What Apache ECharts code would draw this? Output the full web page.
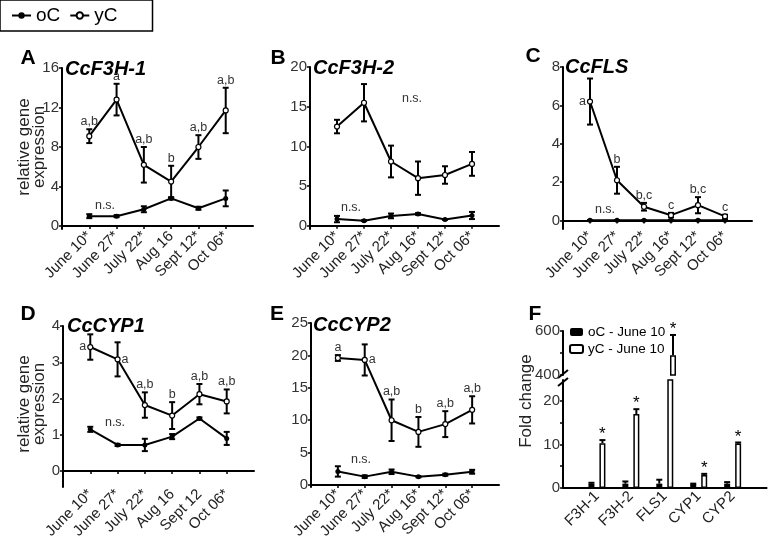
<!DOCTYPE html>
<html><head><meta charset="utf-8">
<script src="https://cdn.jsdelivr.net/npm/echarts@6/dist/echarts.min.js"></script>
<style>html,body{margin:0;padding:0;background:#fff}#c{width:774px;height:545px}</style>
</head><body><div id="c"></div>
<script>
// ---------------- DATA ----------------
const catsA = ['June 10*','June 27*','July 22*','Aug 16','Sept 12*','Oct 06*'];
const catsB = ['June 10*','June 27*','July 22*','Aug 16*','Sept 12*','Oct 06*'];
const catsC = ['June 10*','June 27*','July 22*','Aug 16*','Sept 12*','Oct 06*'];
const catsD = ['June 10*','June 27*','July 22*','Aug 16','Sept 12','Oct 06*'];
const catsE = ['June 10*','June 27*','July 22*','Aug 16*','Sept 12*','Oct 06*'];

const A_oC = [1.0, 1.0, 1.7, 2.8, 1.8, 2.8];
const A_oC_err = [0.2, 0.1, 0.3, 0.1, 0.15, 0.8];
const A_yC = [9.1, 12.8, 6.2, 4.5, 8.0, 11.7];
const A_yC_err = [0.7, 1.6, 1.8, 1.6, 1.2, 2.3];
const A_sig = ['a,b','a','a,b','b','a,b','a,b'];
const A_ticks = [0, 4, 8, 12, 16];

const B_oC = [0.85, 0.65, 1.25, 1.5, 0.8, 1.3];
const B_oC_err = [0.4, 0.05, 0.3, 0.1, 0.05, 0.45];
const B_yC = [12.5, 15.5, 8.1, 6.0, 6.4, 7.8];
const B_yC_err = [0.85, 2.35, 2.0, 2.1, 1.1, 1.5];
const B_sig = ['','','','','',''];
const B_ticks = [0, 5, 10, 15, 20];

const C_oC = [0.02, 0.02, 0.02, 0.02, 0.02, 0.02];
const C_oC_err = [0, 0, 0, 0, 0, 0];
const C_yC = [6.2, 2.1, 0.72, 0.28, 0.8, 0.22];
const C_yC_err = [1.2, 0.7, 0.2, 0.12, 0.42, 0.08];
const C_sig = ['a','b','b,c','c','b,c','c'];
const C_ticks = [0, 2, 4, 6, 8];

const D_oC = [1.15, 0.72, 0.72, 0.95, 1.45, 0.9];
const D_oC_err = [0.07, 0.03, 0.17, 0.07, 0.03, 0.18];
const D_yC = [3.42, 3.08, 1.82, 1.53, 2.12, 1.92];
const D_yC_err = [0.35, 0.47, 0.35, 0.37, 0.28, 0.33];
const D_sig = ['a','a','a,b','b','a,b','a,b'];
const D_ticks = [0, 1, 2, 3, 4];

const E_oC = [2.1, 1.3, 2.05, 1.3, 1.6, 2.05];
const E_oC_err = [0.8, 0.2, 0.35, 0.1, 0.15, 0.3];
const E_yC = [19.6, 19.3, 10.0, 8.2, 9.4, 11.6];
const E_yC_err = [0.45, 2.4, 3.2, 2.3, 2.0, 2.1];
const E_sig = ['a','a','a,b','b','a,b','a,b'];
const E_ticks = [0, 5, 10, 15, 20, 25];

const F_cats = ['F3H-1','F3H-2','FLS1','CYP1','CYP2'];
const F_oC = [1.0, 1.0, 1.0, 0.9, 1.0];
const F_oC_err = [0.2, 0.5, 0.9, 0.1, 0.35];
const F_yC = [10.3, 17.0, 490, 3.0, 10.2];
const F_yC_err = [0.7, 1.1, 92, 0.25, 0.25];
const F_sig = ['*','*','*','*','*'];
const F_lowTicks = [0, 5, 10, 15, 20];
const F_lowLabels = [0, 10, 20];
const F_highTicks = [400, 500, 600];
const F_highLabels = [400, 600];

// ---------------- STYLE / LAYOUT ----------------
const FONT = '"Liberation Sans", Arial, sans-serif';
const grid = [], xAxis = [], yAxis = [], series = [];

function pad(c) { return [' ', ...c, '  ']; }

function errBoth(params, api) {
  const x = api.value(0), y = api.value(1), e = api.value(2);
  const t = api.coord([x, y + e]), b = api.coord([x, y - e]);
  const st = { stroke: '#000', lineWidth: 2 };
  const c = 3;
  return { type: 'group', children: [
    { type: 'line', shape: { x1: t[0], y1: t[1], x2: b[0], y2: b[1] }, style: st },
    { type: 'line', shape: { x1: t[0] - c, y1: t[1], x2: t[0] + c, y2: t[1] }, style: st },
    { type: 'line', shape: { x1: b[0] - c, y1: b[1], x2: b[0] + c, y2: b[1] }, style: st }
  ]};
}

function makeSig(labels, place) {
  return function (params, api) {
    const i = params.dataIndex;
    const txt = labels[i];
    if (!txt) return null;
    const x = api.value(0), y = api.value(1), e = api.value(2);
    const p = api.coord([x, y]), t = api.coord([x, y + e]);
    const pl = place[i] || 'top';
    let tx, ty, align, va;
    if (pl === 'top') { tx = p[0]; ty = t[1] - 1; align = 'center'; va = 'bottom'; }
    else if (pl === 'left') { tx = p[0] - 4; ty = p[1]; align = 'right'; va = 'middle'; }
    else { tx = p[0] + 4; ty = p[1]; align = 'left'; va = 'middle'; }
    return { type: 'text', x: tx, y: ty,
      style: { text: txt, align: align, verticalAlign: va, fontSize: 12.5, fontFamily: FONT, fill: '#333' } };
  };
}

function addLinePanel(p) {
  const gi = grid.length;
  const n = p.cats.length;
  grid.push({ left: p.left, top: p.top, width: p.width, height: p.height });
  xAxis.push({ type: 'category', gridIndex: gi, data: pad(p.cats), boundaryGap: false,
    axisLine: { lineStyle: { color: '#000', width: 2 } },
    axisTick: { show: true, length: 3, interval: (i) => i > 0 && i <= n, lineStyle: { color: '#000', width: 1.5 } },
    axisLabel: { rotate: 45, fontSize: 15, color: '#222', margin: 5, interval: 0, fontFamily: FONT },
    splitLine: { show: false } });
  yAxis.push({ type: 'value', gridIndex: gi, min: p.ymin, max: p.ymax,
    axisLine: { show: true, lineStyle: { color: '#000', width: 2 } },
    axisTick: { show: true, length: 3, customValues: p.ticks, lineStyle: { color: '#000', width: 1.5 } },
    axisLabel: { customValues: p.ticks, fontSize: 15, color: '#333', margin: 3, fontFamily: FONT },
    splitLine: { show: false } });
  const pts = (a) => a.map((v, i) => [i + 1, v]);
  const errs = (a, e) => a.map((v, i) => [i + 1, v, e[i]]);
  series.push({ type: 'custom', xAxisIndex: gi, yAxisIndex: gi, renderItem: errBoth, data: errs(p.yC, p.yCerr), z: 2, silent: true });
  series.push({ type: 'custom', xAxisIndex: gi, yAxisIndex: gi, renderItem: errBoth, data: errs(p.oC, p.oCerr), z: 2, silent: true });
  series.push({ type: 'line', name: 'oC', xAxisIndex: gi, yAxisIndex: gi, data: pts(p.oC),
    symbol: 'circle', symbolSize: 5, itemStyle: { color: '#000' }, lineStyle: { color: '#000', width: 2 }, z: 3 });
  series.push({ type: 'line', name: 'yC', xAxisIndex: gi, yAxisIndex: gi, data: pts(p.yC),
    symbol: 'circle', symbolSize: 5, itemStyle: { color: '#fff', borderColor: '#000', borderWidth: 1.2 },
    lineStyle: { color: '#000', width: 2 }, z: 4 });
  series.push({ type: 'custom', xAxisIndex: gi, yAxisIndex: gi, renderItem: makeSig(p.sig, p.place || {}),
    data: errs(p.yC, p.yCerr), z: 5, silent: true });
}

addLinePanel({ left: 62, top: 68, width: 191, height: 161, ymin: -0.3, ymax: 16, ticks: A_ticks,
  cats: catsA, oC: A_oC, oCerr: A_oC_err, yC: A_yC, yCerr: A_yC_err, sig: A_sig });
addLinePanel({ left: 310, top: 67, width: 189, height: 162, ymin: -0.4, ymax: 20, ticks: B_ticks,
  cats: catsB, oC: B_oC, oCerr: B_oC_err, yC: B_yC, yCerr: B_yC_err, sig: B_sig });
addLinePanel({ left: 563, top: 67, width: 189, height: 162, ymin: -0.44, ymax: 8, ticks: C_ticks,
  cats: catsC, oC: C_oC, oCerr: C_oC_err, yC: C_yC, yCerr: C_yC_err, sig: C_sig, place: { 0: 'left' } });
addLinePanel({ left: 63, top: 326, width: 191, height: 161, ymin: -0.44, ymax: 4, ticks: D_ticks,
  cats: catsD, oC: D_oC, oCerr: D_oC_err, yC: D_yC, yCerr: D_yC_err, sig: D_sig, place: { 0: 'left', 1: 'right' } });
addLinePanel({ left: 311, top: 323, width: 188, height: 164, ymin: -0.3, ymax: 25, ticks: E_ticks,
  cats: catsE, oC: E_oC, oCerr: E_oC_err, yC: E_yC, yCerr: E_yC_err, sig: E_sig, place: { 1: 'right' } });

// ---- Panel F (broken axis: two grids) ----
const F_LOW_MAX = 24.8;
const BAR_W = 6, BAR_SHIFT = 5.5;
function errUp(shift) {
  return function (params, api) {
    const x = api.value(0), y = api.value(1), e = api.value(2);
    const b = api.coord([x, y]), t = api.coord([x, y + e]);
    const cx = b[0] + shift;
    const st = { stroke: '#000', lineWidth: 2 };
    return { type: 'group', children: [
      { type: 'line', shape: { x1: cx, y1: b[1], x2: cx, y2: t[1] }, style: st },
      { type: 'line', shape: { x1: cx - 3, y1: t[1], x2: cx + 3, y2: t[1] }, style: st }
    ]};
  };
}
function starItem(params, api) {
  const x = api.value(0), y = api.value(1), e = api.value(2);
  const t = api.coord([x, y + e]);
  return { type: 'text', x: t[0] + BAR_SHIFT, y: t[1] + 3,
    style: { text: '*', align: 'center', verticalAlign: 'bottom', fontSize: 17, fontFamily: FONT, fill: '#000' } };
}
const fLow = grid.length;
grid.push({ left: 563, top: 380, width: 209, height: 108 });
xAxis.push({ type: 'category', gridIndex: fLow, data: pad(F_cats), boundaryGap: false,
  axisLine: { lineStyle: { color: '#000', width: 2 } }, axisTick: { show: false },
  axisLabel: { rotate: 45, fontSize: 15, color: '#222', margin: 6, interval: 0, fontFamily: FONT } });
yAxis.push({ type: 'value', gridIndex: fLow, min: 0, max: F_LOW_MAX,
  axisLine: { show: true, lineStyle: { color: '#000', width: 2 } },
  axisTick: { show: true, length: 3, customValues: F_lowTicks, lineStyle: { color: '#000', width: 1.5 } },
  axisLabel: { customValues: F_lowLabels, fontSize: 15, color: '#333', margin: 3, fontFamily: FONT },
  splitLine: { show: false } });
const fHigh = grid.length;
grid.push({ left: 563, top: 331, width: 209, height: 44 });
xAxis.push({ type: 'category', gridIndex: fHigh, data: pad(F_cats), boundaryGap: false, show: false });
yAxis.push({ type: 'value', gridIndex: fHigh, min: 400, max: 600,
  axisLine: { show: true, lineStyle: { color: '#000', width: 2 } },
  axisTick: { show: true, length: 3, customValues: F_highTicks, lineStyle: { color: '#000', width: 1.5 } },
  axisLabel: { customValues: F_highLabels, fontSize: 15, color: '#333', margin: 3, fontFamily: FONT },
  splitLine: { show: false } });

const fPts = (a) => a.map((v, i) => [i + 1, v]);
const fErr = (a, e) => a.map((v, i) => [i + 1, v, e[i]]);
const lowYC = fErr(F_yC, F_yC_err).filter(d => d[1] <= F_LOW_MAX);
const highYC = fErr(F_yC, F_yC_err).filter(d => d[1] > F_LOW_MAX);
const barOC = { type: 'bar', name: 'oC - June 10', barWidth: BAR_W, barGap: '83%', itemStyle: { color: '#000' } };
const barYC = { type: 'bar', name: 'yC - June 10', barWidth: BAR_W, itemStyle: { color: '#fff', borderColor: '#000', borderWidth: 1.5 } };
series.push(Object.assign({}, barOC, { xAxisIndex: fLow, yAxisIndex: fLow, data: fPts(F_oC) }));
series.push(Object.assign({}, barYC, { xAxisIndex: fLow, yAxisIndex: fLow, data: fPts(F_yC) }));
series.push(Object.assign({}, barOC, { xAxisIndex: fHigh, yAxisIndex: fHigh, data: [] }));
series.push(Object.assign({}, barYC, { xAxisIndex: fHigh, yAxisIndex: fHigh, data: highYC.map(d => [d[0], d[1]]) }));
series.push({ type: 'custom', xAxisIndex: fLow, yAxisIndex: fLow, renderItem: errUp(-BAR_SHIFT), data: fErr(F_oC, F_oC_err), z: 3, silent: true });
series.push({ type: 'custom', xAxisIndex: fLow, yAxisIndex: fLow, renderItem: errUp(BAR_SHIFT), data: lowYC, z: 3, silent: true });
series.push({ type: 'custom', xAxisIndex: fHigh, yAxisIndex: fHigh, renderItem: errUp(BAR_SHIFT), data: highYC, z: 3, silent: true });
series.push({ type: 'custom', xAxisIndex: fLow, yAxisIndex: fLow, renderItem: starItem, data: lowYC, z: 4, silent: true });
series.push({ type: 'custom', xAxisIndex: fHigh, yAxisIndex: fHigh, renderItem: starItem, data: highYC, z: 4, silent: true, clip: false });

// ---------------- ANNOTATIONS ----------------
function t(x, y, s, font, fill, align) {
  return { type: 'text', x: x, y: y, silent: true,
    style: { text: s, font: font, fill: fill || '#000', align: align || 'center', verticalAlign: 'middle' } };
}
const letterFont = 'bold 21px ' + FONT;
const titleFont = 'italic bold 20px ' + FONT;
const nsFont = '12.5px ' + FONT;
const graphic = [
  t(28, 58, 'A', letterFont), t(278, 58, 'B', letterFont), t(533, 56, 'C', letterFont),
  t(28, 314, 'D', letterFont), t(277, 314, 'E', letterFont), t(535, 314, 'F', letterFont),
  t(65, 69, 'CcF3H-1', titleFont, '#000', 'left'),
  t(313, 68, 'CcF3H-2', titleFont, '#000', 'left'),
  t(565, 67, 'CcFLS', titleFont, '#000', 'left'),
  t(67, 326, 'CcCYP1', titleFont, '#000', 'left'),
  t(313, 325, 'CcCYP2', titleFont, '#000', 'left'),
  t(105, 206, 'n.s.', nsFont, '#333'),
  t(351, 208, 'n.s.', nsFont, '#333'),
  t(412, 99, 'n.s.', nsFont, '#333'),
  t(605, 210, 'n.s.', nsFont, '#333'),
  t(115, 423, 'n.s.', nsFont, '#333'),
  t(361, 460, 'n.s.', nsFont, '#333'),
  { type: 'text', x: 32, y: 147, rotation: Math.PI / 2,
    style: { text: 'relative gene\nexpression', font: '17px ' + FONT, lineHeight: 15, fill: '#222', align: 'center', verticalAlign: 'middle' } },
  { type: 'text', x: 32, y: 404, rotation: Math.PI / 2,
    style: { text: 'relative gene\nexpression', font: '17px ' + FONT, lineHeight: 15, fill: '#222', align: 'center', verticalAlign: 'middle' } },
  { type: 'text', x: 526, y: 401, rotation: Math.PI / 2,
    style: { text: 'Fold change', font: '17px ' + FONT, fill: '#222', align: 'center', verticalAlign: 'middle' } },
  { type: 'line', shape: { x1: 558, y1: 378, x2: 568, y2: 370 }, style: { stroke: '#000', lineWidth: 2 } },
  { type: 'line', shape: { x1: 558, y1: 386, x2: 568, y2: 378 }, style: { stroke: '#000', lineWidth: 2 } }
];

const chart = echarts.init(document.getElementById('c'));
chart.setOption({
  animation: false,
  backgroundColor: '#fff',
  textStyle: { fontFamily: FONT },
  legend: [
    { data: ['oC', 'yC'], left: 0, top: 0, orient: 'horizontal', borderColor: '#000', borderWidth: 1.5,
      padding: [6, 35, 6, 11], itemGap: 9, itemWidth: 19, itemHeight: 8, itemTextGap: 7,
      textStyle: { fontSize: 19, color: '#000', fontFamily: FONT }, selectedMode: false },
    { data: ['oC - June 10', 'yC - June 10'], left: 569, top: 325, orient: 'vertical', itemGap: 3,
      itemWidth: 13, itemHeight: 8, itemTextGap: 3, padding: 0,
      textStyle: { fontSize: 13.5, color: '#000', fontFamily: FONT }, selectedMode: false }
  ],
  grid: grid, xAxis: xAxis, yAxis: yAxis, series: series, graphic: graphic
});
</script></body></html>
